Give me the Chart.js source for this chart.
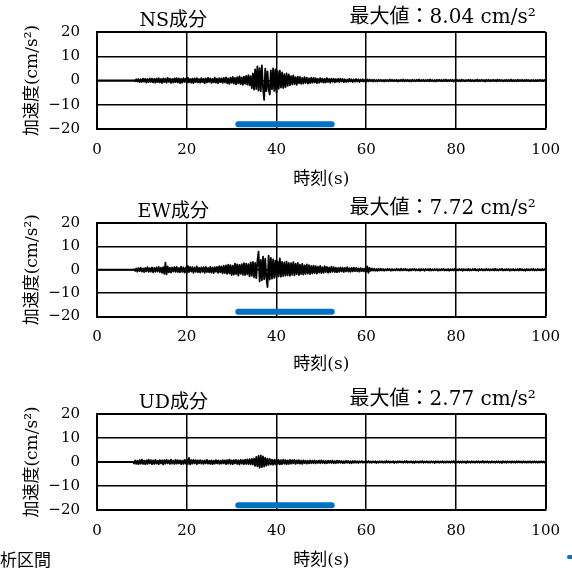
<!DOCTYPE html>
<html lang="ja">
<head>
<meta charset="UTF-8">
<title>加速度波形</title>
<script src="https://cdn.jsdelivr.net/npm/chart.js"></script>
<style>
  body {
    margin: 0;
    background: #fff;
    width: 572px;
    height: 575px;
    overflow: hidden;
    position: relative;
    font-family: "DejaVu Serif", "Noto Sans CJK JP", serif;
  }
  .panel { position: absolute; left: 0; }
  .note { position: absolute; left: 0; top: 546px; font-size: 17px; color: #000; }
  .mark { position: absolute; left: 567px; top: 555px; width: 8px; height: 4px; border-radius: 2px; background: #0070C0; }
</style>
</head>
<body>
<canvas id="nsChart" class="panel" width="572" height="190" style="top:0px"></canvas>
<canvas id="ewChart" class="panel" width="572" height="184" style="top:191px"></canvas>
<canvas id="udChart" class="panel" width="572" height="189" style="top:382px"></canvas>
<div class="note">析区間</div>
<div class="mark"></div>

<script>
// sampling of the traces (s)
const startTime = 8;
const sampleStep = 0.25;

// analysis interval bar
const intervalStart = 31.5;
const intervalEnd = 52.3;
const intervalLevel = -18;

const xTicks = [0, 20, 40, 60, 80, 100];
const yTicks = [-20, -10, 0, 10, 20];

const componentNames = ['NS成分', 'EW成分', 'UD成分'];
const peakValues = ['8.04', '7.72', '2.77'];

// acceleration (cm/s2), one value every 0.25 s from 8 s
const nsAccel = [
  0, 0.1, -0.3, 0.5, -0.4, 0.6, -0.7, 0.5, -0.6, 0.8, -0.5, 0.7, -0.9, 0.6, -0.7, 0.9, -0.6, 0.8, -0.8, 0.7,
  -0.9, 0.8, -0.7, 1.0, -0.8, 0.6, -1.0, 0.9, -0.7, 0.8, -0.9, 1.1, -0.6, 0.8, -1.0, 0.7, -0.8, 0.9, -0.7, 1.0,
  -0.8, 0.9, -1.1, 0.7, -0.9, 1.0, -0.6, 0.8, -1.0, 1.2, -0.8, 0.7, -0.9, 0.8, -1.1, 0.9, -0.7, 1.0, -0.8, 0.6,
  -0.9, 1.0, -0.7, 0.8, -1.2, 0.9, -0.8, 1.1, -0.6, 0.9, -1.0, 0.7, -0.8, 1.2, -0.9, 0.8, -1.1, 1.0, -0.7, 0.9,
  -1.0, 1.1, -0.8, 1.3, -1.2, 0.9, -1.4, 1.2, -1.0, 1.5, -1.3, 1.1, -1.6, 1.4, -1.2, 1.7, -1.5, 1.3, -1.8, 1.6,
  -1.4, 1.9, -1.7, 2.2, -2.0, 1.8, -3.2, 2.9, -3.8, 4.6, -3.5, 5.8, -4.2, 5.1, -4.4, 6.2, -3.0, -8.0, 4.9, -4.4,
  3.8, -3.5, -5.8, 4.2, -3.6, 5.0, -4.3, 4.6, -5.0, 3.9, -3.4, 4.1, -2.9, 3.3, -3.1, 2.6, -2.8, 2.9, -2.2, 2.5,
  -2.0, 1.8, -1.6, 2.1, -1.5, 1.4, -1.8, 1.6, -1.2, 1.5, -1.4, 1.1, -1.3, 1.4, -1.0, 1.2, -1.3, 0.9, -1.1, 1.2,
  -0.9, 1.1, -0.8, 1.0, -1.1, 0.7, -0.9, 1.0, -0.6, 0.8, -0.9, 0.7, -0.8, 1.0, -0.6, 0.7, -0.9, 0.8, -0.5, 0.7,
  -0.8, 0.6, -0.5, 0.7, -0.6, 0.8, -0.4, 0.6, -0.7, 0.5, -0.6, 0.4, -0.5, 0.7, -0.4, 0.5, -0.6, 0.4, -0.5, 0.6,
  -0.4, 0.5, -0.6, 0.4, -0.3, 0.5, -0.4, 0.3, -0.5, 0.4, -0.3, 0.4, -0.2, 0.3, -0.4, 0.3, -0.3, 0.2, -0.4, 0.3,
  -0.2, 0.3, -0.3, 0.2, -0.4, 0.3, -0.2, 0.2, -0.3, 0.4, -0.2, 0.3, -0.3, 0.2, -0.2, 0.3, -0.4, 0.2, -0.3, 0.3,
  -0.2, 0.4, -0.3, 0.2, -0.2, 0.3, -0.3, 0.2, -0.4, 0.3, -0.2, 0.2, -0.3, 0.3, -0.2, 0.4, -0.3, 0.2, -0.2, 0.3,
  -0.3, 0.2, -0.2, 0.3, -0.3, 0.4, -0.2, 0.2, -0.3, 0.2, -0.4, 0.3, -0.2, 0.3, -0.2, 0.2, -0.3, 0.3, -0.2, 0.4,
  -0.3, 0.2, -0.2, 0.3, -0.2, 0.3, -0.4, 0.2, -0.2, 0.3, -0.3, 0.2, -0.3, 0.4, -0.2, 0.2, -0.3, 0.2, -0.2, 0.3,
  -0.2, 0.3, -0.3, 0.2, -0.3, 0.2, -0.2, 0.4, -0.3, 0.2, -0.2, 0.3, -0.2, 0.2, -0.4, 0.3, -0.2, 0.3, -0.3, 0.2,
  -0.2, 0.3, -0.2, 0.2, -0.3, 0.4, -0.2, 0.3, -0.2, 0.2, -0.3, 0.2, -0.2, 0.3, -0.3, 0.2, -0.2, 0.4, -0.3, 0.2,
  -0.2, 0.2, -0.3, 0.3, -0.2, 0.2, -0.2, 0.3, -0.3, 0.2, -0.2, 0.3, -0.2, 0.2, -0.3, 0.2, -0.2, 0.2, -0.3, 0.2,
  -0.2, 0.2, -0.2, 0.3, -0.2, 0.2, -0.2, 0.2, 0
];

const ewAccel = [
  0, 0.2, -0.5, 0.6, -0.8, 0.7, -0.6, 0.9, -0.8, 0.6, -1.0, 0.8, -0.7, 1.1, -0.9, 0.7, -0.8, 1.0, -1.1, 0.8,
  -0.9, 1.0, -0.8, 1.2, -1.0, 0.9, -1.3, 1.1, -1.8, 3.0, -2.0, 1.4, -1.1, 0.9, -1.2, 1.0, -0.8, 1.1, -0.9, 1.2,
  -1.0, 0.8, -1.1, 1.3, -0.9, 1.0, -1.2, 0.9, -1.4, 1.6, -1.0, 1.2, -0.8, 1.1, -1.3, 1.0, -0.9, 1.4, -1.1, 0.9,
  -1.2, 1.0, -0.9, 1.1, -1.3, 1.2, -1.0, 0.8, -1.1, 1.3, -1.2, 1.0, -1.4, 1.1, -0.9, 1.2, -1.3, 1.5, -1.1, 1.4,
  -1.5, 1.7, -1.4, 1.9, -1.8, 2.2, -1.6, 2.0, -2.3, 1.8, -2.1, 2.6, -1.9, 2.3, -2.5, 2.1, -1.8, 2.4, -2.2, 2.8,
  -2.3, 2.6, -2.0, 2.4, -2.8, 3.1, -2.6, 3.4, -3.2, 2.9, -3.6, 3.8, 7.7, -5.0, 4.2, -4.5, 5.6, -4.0, 4.8, -3.6,
  -7.4, 6.0, -4.2, 5.1, -3.8, 4.4, -3.5, 3.9, -3.2, 3.6, -2.8, 4.9, -3.0, 3.4, -2.7, 3.1, -2.5, 3.5, -2.4, 2.9,
  -2.6, 2.8, -2.2, 3.3, -2.4, 2.6, -2.0, 2.9, -2.3, 2.2, -1.9, 2.5, -2.1, 1.9, -1.8, 2.3, -1.7, 2.0, -1.9, 1.6,
  -1.6, 1.8, -1.4, 1.5, -1.7, 1.3, -1.2, 1.6, -1.4, 1.1, -1.3, 1.5, -1.0, 1.2, -1.3, 1.0, -1.1, 1.3, -0.9, 1.1,
  -1.0, 0.9, -1.1, 0.8, -0.9, 1.0, -0.7, 0.9, -1.0, 0.8, -0.7, 1.1, -0.8, 0.7, -0.9, 0.8, -0.7, 0.9, -0.6, 0.8,
  -0.7, 0.6, -0.8, 0.7, -0.6, 0.5, -0.7, 0.6, -0.9, 1.4, -1.3, 0.8, -0.5, 0.6, -0.4, 0.5, -0.4, 0.3, -0.5, 0.4,
  -0.3, 0.4, -0.3, 0.3, -0.4, 0.2, -0.3, 0.4, -0.2, 0.3, -0.4, 0.3, -0.3, 0.2, -0.3, 0.4, -0.2, 0.3, -0.3, 0.4,
  -0.3, 0.3, -0.2, 0.4, -0.3, 0.2, -0.4, 0.3, -0.3, 0.3, -0.2, 0.4, -0.3, 0.2, -0.3, 0.3, -0.4, 0.3, -0.2, 0.3,
  -0.4, 0.3, -0.2, 0.3, -0.3, 0.4, -0.3, 0.2, -0.3, 0.3, -0.2, 0.3, -0.4, 0.2, -0.3, 0.3, -0.2, 0.4, -0.3, 0.2,
  -0.3, 0.3, -0.4, 0.2, -0.2, 0.3, -0.3, 0.4, -0.3, 0.2, -0.3, 0.3, -0.2, 0.3, -0.4, 0.3, -0.2, 0.2, -0.3, 0.4,
  -0.3, 0.2, -0.3, 0.3, -0.2, 0.4, -0.3, 0.2, -0.4, 0.3, -0.2, 0.3, -0.3, 0.2, -0.3, 0.4, -0.2, 0.3, -0.3, 0.2,
  -0.2, 0.3, -0.3, 0.4, -0.2, 0.2, -0.3, 0.3, -0.2, 0.4, -0.3, 0.2, -0.3, 0.3, -0.2, 0.3, -0.4, 0.2, -0.2, 0.3,
  -0.3, 0.2, -0.2, 0.3, -0.3, 0.4, -0.2, 0.3, -0.3, 0.2, -0.4, 0.3, -0.2, 0.2, -0.3, 0.3, -0.2, 0.4, -0.3, 0.2,
  -0.3, 0.3, -0.2, 0.2, -0.3, 0.3, -0.2, 0.3, 0
];

const udAccel = [
  0, -0.6, 0.7, -0.8, 0.6, -0.9, 0.8, -0.7, 1.0, -0.8, 0.6, -0.9, 0.7, -0.8, 1.0, -0.6, 0.8, -0.9, 0.7, -0.8,
  0.9, -0.7, 0.6, -0.9, 0.8, -0.6, 0.7, -1.0, 0.8, -0.7, 0.9, -0.6, 0.7, -0.8, 1.0, -0.7, 0.6, -0.8, 0.9, -0.7,
  0.8, -0.6, 0.7, -0.9, 0.6, -0.8, 0.9, -0.7, 1.1, -0.9, 1.7, -1.0, 0.8, -0.7, 0.9, -0.6, 0.8, -0.9, 0.7, -0.6,
  0.8, -0.7, 0.6, -0.8, 0.7, -0.6, 0.9, -0.7, 0.6, -0.8, 0.7, -0.9, 0.6, -0.7, 0.8, -0.6, 0.7, -0.8, 0.6, -0.7,
  0.8, -0.6, 0.7, -0.9, 0.8, -0.7, 1.0, -0.8, 0.7, -0.9, 0.8, -0.6, 0.9, -0.8, 0.7, -1.0, 0.9, -0.7, 0.8, -0.9,
  1.0, -0.8, 1.1, -0.9, 1.2, -1.0, 1.3, -1.1, 1.4, -1.6, 2.1, -1.8, 2.5, -2.4, 2.77, -2.2, 2.3, -1.9, 1.8, -1.5,
  1.4, -1.2, 1.3, -1.1, 1.0, -1.2, 0.9, -1.0, 1.1, -0.8, 0.9, -1.0, 0.8, -0.9, 1.0, -0.7, 0.8, -0.9, 0.7, -0.8,
  0.9, -0.7, 0.8, -0.6, 0.9, -0.8, 0.7, -0.6, 0.8, -0.7, 0.6, -0.8, 0.7, -0.5, 0.6, -0.7, 0.5, -0.6, 0.7, -0.5,
  0.6, -0.5, 0.7, -0.6, 0.5, -0.4, 0.6, -0.5, 0.7, -0.4, 0.5, -0.6, 0.4, -0.5, 0.6, -0.4, 0.5, -0.4, 0.6, -0.5,
  0.4, -0.5, 0.6, -0.4, 0.5, -0.3, 0.4, -0.5, 0.3, -0.4, 0.5, -0.3, 0.4, -0.4, 0.3, -0.5, 0.4, -0.3, 0.4, -0.3,
  0.3, -0.4, 0.3, -0.2, 0.4, -0.3, 0.2, -0.3, 0.3, -0.2, 0.4, -0.3, 0.2, -0.3, 0.3, -0.2, 0.3, -0.4, 0.2, -0.3,
  0.3, -0.2, 0.3, -0.3, 0.2, -0.3, 0.4, -0.2, 0.3, -0.3, 0.2, -0.2, 0.3, -0.4, 0.2, -0.3, 0.3, -0.2, 0.3, -0.2,
  0.2, -0.3, 0.3, -0.2, 0.4, -0.3, 0.2, -0.2, 0.3, -0.3, 0.2, -0.4, 0.3, -0.2, 0.2, -0.3, 0.3, -0.2, 0.4, -0.3,
  0.2, -0.2, 0.3, -0.3, 0.2, -0.3, 0.3, -0.2, 0.2, -0.4, 0.3, -0.2, 0.3, -0.3, 0.2, -0.2, 0.3, -0.3, 0.2, -0.3,
  0.3, -0.2, 0.2, -0.3, 0.3, -0.2, 0.4, -0.3, 0.2, -0.2, 0.3, -0.3, 0.2, -0.3, 0.3, -0.2, 0.2, -0.4, 0.3, -0.2,
  0.2, -0.3, 0.3, -0.2, 0.2, -0.3, 0.3, -0.2, 0.3, -0.3, 0.2, -0.2, 0.4, -0.3, 0.2, -0.2, 0.3, -0.3, 0.2, -0.3,
  0.3, -0.2, 0.2, -0.3, 0.3, -0.2, 0.3, -0.3, 0.2, -0.4, 0.3, -0.2, 0.2, -0.3, 0.3, -0.2, 0.2, -0.3, 0.3, -0.2,
  0.2, -0.3, 0.3, -0.2, 0.3, -0.2, 0.2, -0.3, 0.3, -0.2, 0.2, -0.3, 0.2, -0.2, 0.3, -0.3, 0.2, -0.2, 0.3, -0.2,
  0.2, -0.3, 0.2, -0.2, 0.3, -0.2, 0.2, -0.2, 0
];

const LATIN = '"DejaVu Serif", "Noto Sans CJK JP", serif';
Chart.defaults.color = '#000';

// component name and max value above each plot
const panelTitles = {
  id: 'panelTitles',
  afterDraw(chart, args, opts) {
    const { ctx, chartArea } = chart;
    ctx.save();
    ctx.fillStyle = '#000';
    ctx.textBaseline = 'alphabetic';
    ctx.font = '19px ' + LATIN;
    ctx.textAlign = 'center';
    ctx.fillText(opts.name, chartArea.left + chartArea.width * 0.17, chartArea.top - 6);
    ctx.font = '20px ' + LATIN;
    ctx.textAlign = 'right';
    ctx.fillText('最大値：' + opts.peak + ' cm/s²', chartArea.right - 10, chartArea.top - 9);
    ctx.restore();
  }
};

function makePanel(canvasId, name, peak, values, plotHeight) {
  const trace = [{ x: 0, y: 0 }].concat(
    values.map((v, i) => ({ x: startTime + i * sampleStep, y: v }))
  );
  const canvas = document.getElementById(canvasId);
  const axisHeight = canvas.height - 32 - plotHeight;

  new Chart(canvas, {
    type: 'line',
    data: {
      datasets: [
        {
          data: trace,
          borderColor: '#000',
          borderWidth: 1.8,
          borderJoinStyle: 'round',
          pointRadius: 0,
          tension: 0
        },
        {
          data: [{ x: intervalStart, y: intervalLevel }, { x: intervalEnd, y: intervalLevel }],
          borderColor: '#0070C0',
          borderWidth: 6,
          borderCapStyle: 'round',
          pointRadius: 0
        }
      ]
    },
    plugins: [panelTitles],
    options: {
      responsive: false,
      animation: false,
      layout: { padding: { left: 0, right: 20, top: 32, bottom: 0 } },
      plugins: {
        legend: { display: false },
        tooltip: { enabled: false },
        panelTitles: { name: name, peak: peak }
      },
      scales: {
        x: {
          type: 'linear',
          min: xTicks[0],
          max: xTicks[xTicks.length - 1],
          afterBuildTicks: s => { s.ticks = xTicks.map(v => ({ value: v })); },
          afterFit: s => { s.height = axisHeight; },
          ticks: { padding: 12, font: { family: LATIN, size: 15 }, color: '#000' },
          grid: {
            color: '#000',
            drawTicks: false,
            lineWidth: c => (c.tick && c.tick.value === 100 ? 2 : 1.5)
          },
          border: { color: '#000', width: 2 },
          title: {
            display: true,
            text: '時刻(s)',
            font: { family: LATIN, size: 17 },
            color: '#000',
            padding: { top: 0, bottom: 0 }
          }
        },
        y: {
          type: 'linear',
          min: yTicks[0],
          max: yTicks[yTicks.length - 1],
          afterBuildTicks: s => { s.ticks = yTicks.map(v => ({ value: v })); },
          afterFit: s => { s.width = 97; },
          ticks: {
            padding: 17,
            font: { family: LATIN, size: 15 },
            color: '#000',
            callback: v => (v < 0 ? '\u2212' + Math.abs(v) : String(v))
          },
          grid: {
            color: '#000',
            drawTicks: false,
            lineWidth: c => (c.tick && c.tick.value === 20 ? 2 : 1.5)
          },
          border: { color: '#000', width: 2 },
          title: {
            display: true,
            text: '加速度(cm/s²)',
            font: { family: LATIN, size: 17 },
            color: '#000',
            padding: { top: 22, bottom: 0 }
          }
        }
      }
    }
  });
}

makePanel('nsChart', componentNames[0], peakValues[0], nsAccel, 97);
makePanel('ewChart', componentNames[1], peakValues[1], ewAccel, 93.5);
makePanel('udChart', componentNames[2], peakValues[2], udAccel, 96);
</script>
</body>
</html>
